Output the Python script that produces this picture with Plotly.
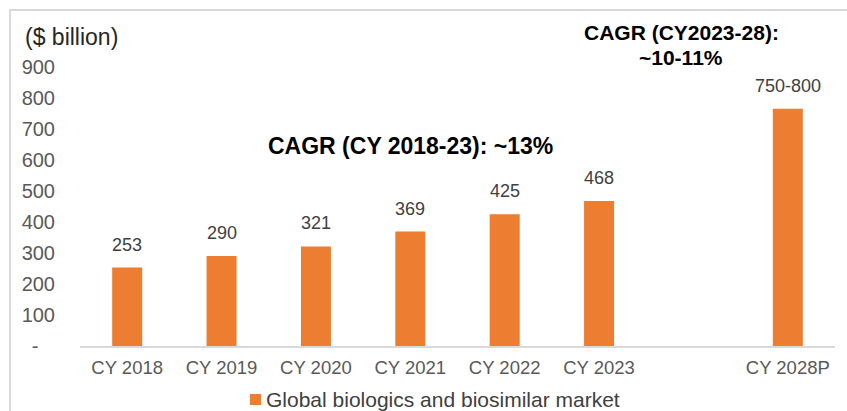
import plotly.graph_objects as go

# Market size by calendar year ($ billion); the 2028 projection is a 750-800 range
categories = ["CY 2018", "CY 2019", "CY 2020", "CY 2021", "CY 2022", "CY 2023", " ", "CY 2028P"]
values = [253, 290, 321, 369, 425, 468, None, 765]
value_labels = ["253", "290", "321", "369", "425", "468", "", "750-800"]
series_name = "Global biologics and biosimilar market"
y_ticks = [0, 100, 200, 300, 400, 500, 600, 700, 800, 900]
y_tick_text = ["-\u00a0\u00a0\u00a0"] + [str(v) for v in y_ticks[1:]]

ORANGE = "#ED7D31"
FONT = "Liberation Sans, Arial, sans-serif"

W, H = 847, 411
ML, MR, MT, MB = 80, 12, 67, 65
PW, PH = W - ML - MR, H - MT - MB


def px(x):
    """page x (pixels) -> paper x"""
    return (x - ML) / PW


def py(y):
    """page y (pixels) -> paper y"""
    return (H - MB - y) / PH


fig = go.Figure()
fig.add_trace(go.Bar(
    x=categories,
    y=values,
    name=series_name,
    marker=dict(color=ORANGE, line=dict(width=0)),
    showlegend=False,
))

annotations = []
# value labels above each bar
for cat, val, lab in zip(categories, values, value_labels):
    if val is None:
        continue
    annotations.append(dict(
        x=cat, y=val, xref="x", yref="y", text=lab, showarrow=False,
        xanchor="center", yanchor="bottom", yshift=11,
        font=dict(family=FONT, size=18, color="#404040"),
    ))

annotations += [
    dict(text="($ billion)", xref="paper", yref="paper",
         x=px(23), y=py(37), xanchor="left", yanchor="middle",
         showarrow=False, font=dict(family=FONT, size=23, color="#262626")),
    dict(text="<b>CAGR (CY 2018-23): ~13%</b>", xref="paper", yref="paper",
         x=px(410), y=py(146), xanchor="center", yanchor="middle",
         showarrow=False, font=dict(family=FONT, size=23, color="#000000")),
    dict(text="<b>CAGR (CY2023-28):</b>", xref="paper", yref="paper",
         x=px(681), y=py(33), xanchor="center", yanchor="middle",
         showarrow=False, font=dict(family=FONT, size=21, color="#000000")),
    dict(text="<b>~10-11%</b>", xref="paper", yref="paper",
         x=px(681), y=py(57), xanchor="center", yanchor="middle",
         showarrow=False, font=dict(family=FONT, size=21, color="#000000")),
    # legend entry text
    dict(text=series_name, xref="paper", yref="paper",
         x=px(264), y=py(399), xanchor="left", yanchor="middle",
         showarrow=False, font=dict(family=FONT, size=21, color="#404040")),
]

fig.update_layout(
    width=W,
    height=H,
    margin=dict(l=ML, r=MR, t=MT, b=MB, autoexpand=False),
    paper_bgcolor="white",
    plot_bgcolor="white",
    font=dict(family=FONT, color="#595959"),
    bargap=0.682,
    showlegend=False,
    xaxis=dict(
        type="category",
        categoryorder="array",
        categoryarray=categories,
        showgrid=False,
        showline=True,
        linecolor="#D9D9D9",
        linewidth=2,
        ticks="",
        ticklabelstandoff=4,
        tickfont=dict(family=FONT, size=18.5, color="#595959"),
        fixedrange=True,
    ),
    yaxis=dict(
        range=[0, 900],
        tickvals=y_ticks,
        ticktext=y_tick_text,
        showgrid=False,
        zeroline=False,
        showline=False,
        ticks="",
        ticklabelstandoff=24,
        tickfont=dict(family=FONT, size=20, color="#595959"),
        fixedrange=True,
    ),
    shapes=[
        # outer chart frame
        dict(type="rect", xref="paper", yref="paper",
             x0=px(10), x1=px(W + 20), y0=py(H + 20), y1=py(10),
             line=dict(color="#D9D9D9", width=2), fillcolor="rgba(0,0,0,0)",
             layer="below"),
        # legend swatch
        dict(type="rect", xref="paper", yref="paper",
             x0=px(250), x1=px(261), y0=py(405), y1=py(394),
             line=dict(width=0), fillcolor=ORANGE),
    ],
    annotations=annotations,
)

fig.write_html("out.html")
